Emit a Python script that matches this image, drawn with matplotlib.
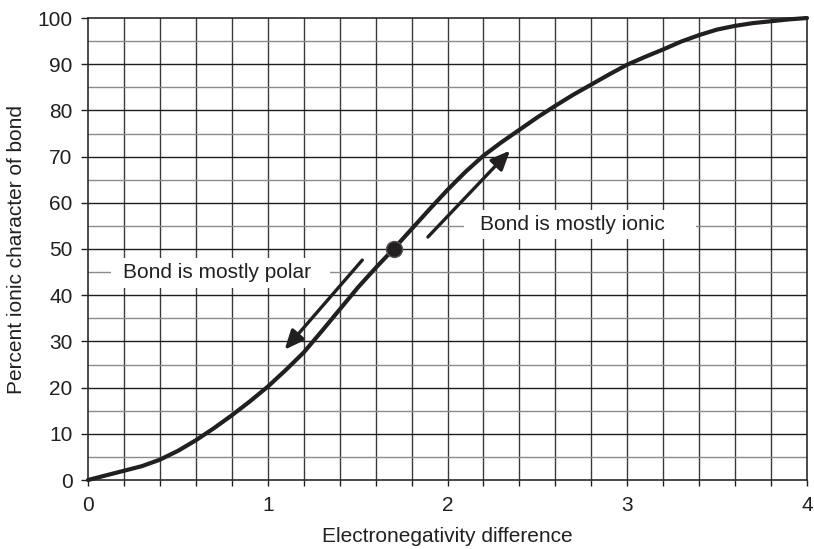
import matplotlib
matplotlib.use("Agg")
import matplotlib.pyplot as plt
from matplotlib.patches import Rectangle
import numpy as np

# Data
en_diff = [0.0, 0.1, 0.2, 0.3, 0.4, 0.5, 0.6, 0.7, 0.8, 0.9, 1.0, 1.1, 1.2,
           1.3, 1.4, 1.5, 1.6, 1.7, 1.8, 1.9, 2.0, 2.1, 2.2, 2.3, 2.4, 2.5,
           2.6, 2.7, 2.8, 2.9, 3.0, 3.1, 3.2, 3.3, 3.4, 3.5, 3.6, 3.7, 3.8,
           3.9, 4.0]
ionic_pct = [0.0, 1.0, 2.0, 3.0, 4.4, 6.3, 8.6, 11.2, 14.0, 17.0, 20.2, 23.8,
             27.6, 32.2, 36.9, 41.6, 45.9, 50.0, 54.3, 58.6, 62.8, 66.7, 70.2,
             73.1, 75.8, 78.5, 81.0, 83.4, 85.6, 87.8, 89.9, 91.6, 93.2, 94.9,
             96.3, 97.5, 98.3, 98.9, 99.3, 99.7, 100.0]
midpoint = (1.7, 50.0)
x_major = [0, 1, 2, 3, 4]
y_major = [0, 10, 20, 30, 40, 50, 60, 70, 80, 90, 100]

label_polar = "Bond is mostly polar"
label_ionic = "Bond is mostly ionic"

plt.rcParams['font.family'] = ['Liberation Sans', 'DejaVu Sans']
ink = '#231f20'

fig = plt.figure(figsize=(8.14, 5.49), dpi=100)
ax = fig.add_axes([88/814, 1-480/549, 719/814, 462/549])
ax.set_xlim(0, 4)
ax.set_ylim(0, 100)

# grid
for xv in np.arange(0.2, 4.0, 0.2):
    ax.axvline(xv, color='#3a3a3a', lw=1.0, zorder=1)
for yv in np.arange(5, 100, 10):
    ax.axhline(yv, color='#8a8a8a', lw=1.0, zorder=1)
for yv in np.arange(10, 100, 10):
    ax.axhline(yv, color='#1e1e1e', lw=1.0, zorder=1)

for s in ax.spines.values():
    s.set_color('#2a2a2a')
    s.set_linewidth(1.2)
    s.set_zorder(3)

ax.set_xticks(x_major)
ax.set_xticks(np.arange(0, 4.01, 0.2), minor=True)
ax.set_yticks(y_major)
ax.tick_params(axis='x', which='both', direction='out', length=4.5, width=1.0,
               color=ink, labelsize=15, pad=7, labelcolor=ink)
ax.tick_params(axis='y', which='major', direction='out', length=5, width=1.0,
               color=ink, labelsize=15, pad=6, labelcolor=ink)

ax.set_xlabel("Electronegativity difference", fontsize=15, color=ink)
ax.set_ylabel("Percent ionic character of bond", fontsize=15, color=ink)
ax.xaxis.set_label_coords(0.5, -0.101)
ax.yaxis.set_label_coords(-0.086, 0.5)

# label boxes
ax.add_patch(Rectangle((0.126, 41.6), 1.222, 6.5, facecolor='white',
                       edgecolor='none', zorder=2))
ax.add_patch(Rectangle((2.094, 52.1), 1.288, 6.4, facecolor='white',
                       edgecolor='none', zorder=2))
ax.text(0.718, 44.9, label_polar, fontsize=15, color=ink, ha='center',
        va='center', zorder=4)
ax.text(2.694, 55.4, label_ionic, fontsize=15, color=ink, ha='center',
        va='center', zorder=4)

# curve
ax.plot(en_diff, ionic_pct, color=ink, lw=3.0, solid_joinstyle='round',
        solid_capstyle='round', zorder=5, clip_on=False)
ax.plot([midpoint[0]], [midpoint[1]], 'o', ms=11.5, color=ink,
        markeredgecolor='#555555', markeredgewidth=1.0, zorder=6)

# arrows
arrow_kw = dict(arrowstyle='-|>,head_length=1.15,head_width=0.5', color=ink,
                lw=2.4, shrinkA=0, shrinkB=0)
ax.annotate('', xy=(1.094, 28.2), xytext=(1.526, 47.6), arrowprops=arrow_kw,
            zorder=6)
ax.annotate('', xy=(2.348, 71.3), xytext=(1.891, 52.6), arrowprops=arrow_kw,
            zorder=6)

fig.savefig('out.png', dpi=100)
